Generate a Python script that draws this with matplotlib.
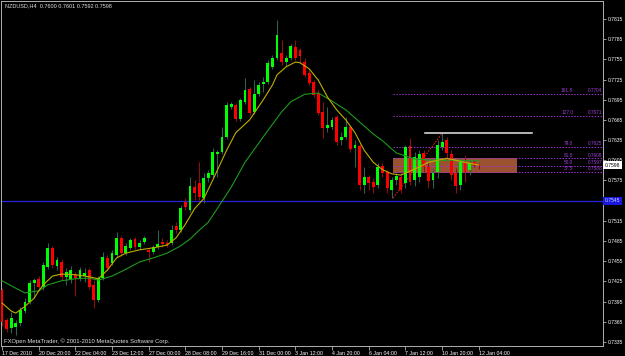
import matplotlib
matplotlib.use('Agg')
import matplotlib.pyplot as plt
import matplotlib.transforms as mtransforms
import numpy as np

plt.rcParams['font.family'] = ['Liberation Sans', 'DejaVu Sans']

# NZDUSD H4 candles, bar 0 = 17 Dec 2010, last bar = 12 Jan 04:00
opens = [0.7412, 0.7368, 0.7356, 0.7357, 0.7363, 0.7381, 0.7394, 0.7423, 0.7429, 0.7417,
         0.7446, 0.7475, 0.7448, 0.7454, 0.7432, 0.7427, 0.7435, 0.7430, 0.7433, 0.7442,
         0.7420, 0.7397, 0.7430, 0.7460, 0.7452, 0.7464, 0.7490, 0.7467, 0.7475, 0.7488,
         0.7476, 0.7484, 0.7472, 0.7469, 0.7476, 0.7484, 0.7482, 0.7482, 0.7508, 0.7501,
         0.7543, 0.7531, 0.7565, 0.7571, 0.7549, 0.7579, 0.7583, 0.7614, 0.7617, 0.7640,
         0.7684, 0.7687, 0.7666, 0.7692, 0.7711, 0.7677, 0.7703, 0.7718, 0.7721, 0.7744,
         0.7757, 0.7764, 0.7751, 0.7757, 0.7773, 0.7769, 0.7751, 0.7735, 0.7721, 0.7705,
         0.7677, 0.7653, 0.7654, 0.7669, 0.7635, 0.7640, 0.7654, 0.7623, 0.7626, 0.7568,
         0.7580, 0.7573, 0.7568, 0.7597, 0.7588, 0.7561, 0.7576, 0.7580, 0.7571, 0.7626,
         0.7576, 0.7580, 0.7616, 0.7595, 0.7576, 0.7588, 0.7625, 0.7635, 0.7614, 0.7586,
         0.7568, 0.7602, 0.7591, 0.7602, 0.7600]
highs = [0.7415, 0.7371, 0.7380, 0.7368, 0.7387, 0.7400, 0.7427, 0.7430, 0.7433, 0.7454,
         0.7482, 0.7478, 0.7461, 0.7458, 0.7445, 0.7448, 0.7439, 0.7446, 0.7445, 0.7445,
         0.7427, 0.7433, 0.7469, 0.7464, 0.7472, 0.7498, 0.7493, 0.7482, 0.7490, 0.7491,
         0.7487, 0.7493, 0.7475, 0.7479, 0.7501, 0.7490, 0.7487, 0.7509, 0.7513, 0.7539,
         0.7549, 0.7580, 0.7576, 0.7602, 0.7586, 0.7591, 0.7623, 0.7620, 0.7654, 0.7692,
         0.7692, 0.7690, 0.7698, 0.7727, 0.7714, 0.7724, 0.7721, 0.7729, 0.7754, 0.7761,
         0.7813, 0.7784, 0.7761, 0.7778, 0.7784, 0.7772, 0.7757, 0.7739, 0.7724, 0.7709,
         0.7692, 0.7684, 0.7669, 0.7672, 0.7647, 0.7669, 0.7657, 0.7635, 0.7629, 0.7595,
         0.7583, 0.7579, 0.7601, 0.7601, 0.7591, 0.7580, 0.7586, 0.7588, 0.7628, 0.7638,
         0.7617, 0.7620, 0.7620, 0.7601, 0.7593, 0.7635, 0.7645, 0.7640, 0.7620, 0.7593,
         0.7608, 0.7613, 0.7605, 0.7605, 0.7601]
lows = [0.7359, 0.7350, 0.7348, 0.7345, 0.7359, 0.7378, 0.7391, 0.7400, 0.7412, 0.7412,
        0.7443, 0.7445, 0.7442, 0.7427, 0.7420, 0.7423, 0.7404, 0.7426, 0.7424, 0.7414,
        0.7386, 0.7394, 0.7427, 0.7442, 0.7449, 0.7461, 0.7463, 0.7464, 0.7472, 0.7473,
        0.7473, 0.7481, 0.7454, 0.7466, 0.7473, 0.7476, 0.7476, 0.7479, 0.7497, 0.7498,
        0.7531, 0.7528, 0.7546, 0.7546, 0.7541, 0.7573, 0.7579, 0.7580, 0.7614, 0.7637,
        0.7681, 0.7663, 0.7663, 0.7689, 0.7672, 0.7674, 0.7700, 0.7706, 0.7718, 0.7741,
        0.7754, 0.7747, 0.7745, 0.7754, 0.7754, 0.7750, 0.7729, 0.7717, 0.7699, 0.7672,
        0.7638, 0.7647, 0.7651, 0.7628, 0.7628, 0.7637, 0.7617, 0.7595, 0.7561, 0.7557,
        0.7561, 0.7557, 0.7564, 0.7580, 0.7557, 0.7549, 0.7568, 0.7556, 0.7564, 0.7568,
        0.7567, 0.7573, 0.7588, 0.7564, 0.7564, 0.7579, 0.7620, 0.7607, 0.7576, 0.7557,
        0.7561, 0.7573, 0.7583, 0.7595, 0.7592]
closes = [0.7365, 0.7354, 0.7371, 0.7363, 0.7383, 0.7394, 0.7423, 0.7427, 0.7417, 0.7449,
          0.7475, 0.7449, 0.7457, 0.7432, 0.7439, 0.7442, 0.7430, 0.7442, 0.7437, 0.7417,
          0.7397, 0.7430, 0.7461, 0.7445, 0.7467, 0.7490, 0.7467, 0.7478, 0.7487, 0.7476,
          0.7482, 0.7490, 0.7469, 0.7476, 0.7481, 0.7481, 0.7479, 0.7501, 0.7501, 0.7534,
          0.7536, 0.7567, 0.7556, 0.7550, 0.7579, 0.7586, 0.7617, 0.7617, 0.7640, 0.7687,
          0.7689, 0.7666, 0.7695, 0.7709, 0.7675, 0.7703, 0.7717, 0.7721, 0.7750, 0.7757,
          0.7791, 0.7751, 0.7757, 0.7775, 0.7757, 0.7760, 0.7732, 0.7720, 0.7702, 0.7675,
          0.7653, 0.7657, 0.7665, 0.7632, 0.7640, 0.7654, 0.7622, 0.7628, 0.7568, 0.7580,
          0.7571, 0.7565, 0.7595, 0.7586, 0.7564, 0.7576, 0.7582, 0.7561, 0.7625, 0.7573,
          0.7610, 0.7614, 0.7595, 0.7574, 0.7586, 0.7628, 0.7632, 0.7616, 0.7583, 0.7567,
          0.7602, 0.7588, 0.7601, 0.7598, 0.7598]

# moving averages (bar index, price)
ma_fast_bars = [0, 2, 3, 5, 7, 8, 9, 11, 13, 16, 19, 21, 23, 25, 27, 30, 33, 36, 38, 40,
                42, 44, 46, 49, 51, 54, 57, 59, 60, 62, 64, 65, 67, 69, 71, 73, 75, 77, 79, 81,
                83, 85, 87, 89, 91, 93, 95, 97, 99, 101, 104]
ma_fast = [0.7393, 0.7381, 0.7378, 0.7388, 0.7400, 0.7411, 0.7420, 0.7433, 0.7436, 0.7435,
           0.7432, 0.7429, 0.7442, 0.7460, 0.7467, 0.7472, 0.7475, 0.7479, 0.7490, 0.7510,
           0.7533, 0.7548, 0.7576, 0.7620, 0.7646, 0.7665, 0.7695, 0.7717, 0.7732, 0.7744,
           0.7751, 0.7750, 0.7741, 0.7724, 0.7699, 0.7680, 0.7665, 0.7646, 0.7620, 0.7602,
           0.7591, 0.7585, 0.7583, 0.7589, 0.7595, 0.7602, 0.7605, 0.7608, 0.7605, 0.7602,
           0.7598]
ma_slow_bars = [0, 3, 5, 8, 10, 13, 16, 19, 21, 24, 27, 30, 33, 36, 39, 41, 43, 45, 50, 53,
                57, 61, 63, 66, 69, 72, 75, 78, 81, 83, 86, 90, 94, 98, 104]
ma_slow = [0.7426, 0.7415, 0.7408, 0.7411, 0.7420, 0.7426, 0.7429, 0.7430, 0.7427, 0.7433,
           0.7443, 0.7454, 0.7460, 0.7467, 0.7478, 0.7488, 0.7501, 0.7513, 0.7565, 0.7602,
           0.7640, 0.7677, 0.7692, 0.7703, 0.7705, 0.7693, 0.7680, 0.7662, 0.7644, 0.7634,
           0.7616, 0.7607, 0.7605, 0.7605, 0.7604]

# fibonacci expansion levels
fib_labels = ['161.8', '127.0', '79.0', '61.8', '50.0', '37.5']
fib_prices = [0.7704, 0.7671, 0.7625, 0.7608, 0.7597, 0.7588]
fib_low, fib_high = 0.7549, 0.7645

support = 0.7545
last_price = 0.7598

tick_bars = [0, 8, 16, 24, 32, 40, 48, 56, 64, 72, 80, 88, 96, 104]
tick_labels = ['17 Dec 2010', '20 Dec 20:00', '22 Dec 04:00', '23 Dec 12:00', '27 Dec 00:00',
               '28 Dec 08:00', '29 Dec 16:00', '31 Dec 00:00', '3 Jan 12:00', '4 Jan 20:00',
               '6 Jan 04:00', '7 Jan 12:00', '10 Jan 20:00', '12 Jan 04:00']
price_ticks = [0.7815, 0.7785, 0.7755, 0.7725, 0.7695, 0.7665, 0.7635, 0.7605, 0.7575,
               0.7545, 0.7515, 0.7485, 0.7455, 0.7425, 0.7395, 0.7365, 0.7335]

o = np.array(opens); h = np.array(highs); l = np.array(lows); c = np.array(closes)
x = np.arange(len(o))
up = c >= o

fig = plt.figure(figsize=(6.25, 3.56), dpi=100, facecolor='black')
ax = fig.add_axes([1 / 625, 10 / 356, 602 / 625, 345 / 356])
ax.set_facecolor('black')
ax.set_xlim(-0.22, 131.1)
ax.set_ylim(0.73291, 0.78417)

# rectangle zone and fibo lines (background)
ax.fill_between([85.3, 112.3], 0.7586, 0.7608, color='#9a5230', lw=0, zorder=1)
for lab, p in zip(fib_labels, fib_prices):
    ax.plot([85.3, 131.1], [p, p], color='#9b30d0', lw=0.7, ls=(0, (1.5, 1.5)), zorder=1)
    ax.text(124.6, p + 0.00006, lab, color='#a040d8', fontsize=3.4, ha='right', va='bottom')
    ax.text(131.0, p + 0.00006, f'{p:.4f}', color='#a040d8', fontsize=3.4, ha='right', va='bottom')
ax.plot([85.3, 96], [fib_low, fib_high], color='#ff2020', lw=0.7, ls=(0, (1.5, 1.5)), zorder=2)
ax.plot([92.3, 115.6], [fib_high, fib_high], color='#e8e8e8', lw=1.1, zorder=5)
ax.axhline(support, color='#2424dc', lw=0.9, zorder=2)

# candles
ax.vlines(x[up], l[up], h[up], colors='#2f5f4f', lw=0.8, zorder=2)
ax.vlines(x[~up], l[~up], h[~up], colors='#8b1010', lw=0.8, zorder=2)
body = np.maximum(np.abs(c - o), 0.00008)
ax.bar(x[up], body[up], bottom=np.minimum(o, c)[up], width=0.62, color='#00ff00', lw=0, zorder=3)
ax.bar(x[~up], body[~up], bottom=np.minimum(o, c)[~up], width=0.62, color='#ff0000', lw=0, zorder=3)

ax.plot(ma_slow_bars, ma_slow, color='#1e9a1e', lw=0.8, zorder=4)
ax.plot(ma_fast_bars, ma_fast, color='#c0ae00', lw=0.8, zorder=4)

# axes styling
for s in ax.spines.values():
    s.set_color('#b0b0b0')
    s.set_linewidth(0.7)
ax.yaxis.tick_right()
ax.set_yticks(price_ticks)
# the support box covers its own tick label
ax.set_yticklabels(['' if v == support else f'{v:.4f}' for v in price_ticks])
ax.tick_params(axis='y', colors='#b0b0b0', labelcolor='white', length=2.5, width=0.6,
               labelsize=3.6, pad=1)
ax.set_xticks(tick_bars)
ax.set_xticklabels(tick_labels)
ax.tick_params(axis='x', colors='#b0b0b0', labelcolor='white', length=3, width=0.6,
               labelsize=3.8, pad=0.8)
for lbl in ax.get_xticklabels():
    lbl.set_ha('left')

tr = mtransforms.blended_transform_factory(ax.transAxes, ax.transData)
ax.text(1.003, last_price, f'{last_price:.4f}', transform=tr, fontsize=3.6, color='black',
        ha='left', va='center', zorder=6,
        bbox=dict(boxstyle='square,pad=0.3', fc='white', ec='none'))
ax.text(1.003, support, f'{support:.4f}', transform=tr, fontsize=3.6, color='#d0d0ff',
        ha='left', va='center', zorder=6,
        bbox=dict(boxstyle='square,pad=0.3', fc='#1818e0', ec='none'))

fig.text(5 / 625, 1 - 6 / 356, 'NZDUSD,H4  0.7600 0.7601 0.7592 0.7598', color='#e0e0e0',
         fontsize=4, va='center')
fig.text(4 / 625, 1 - 341 / 356, 'FXOpen MetaTrader, © 2001-2010 MetaQuotes Software Corp.',
         color='#e0e0e0', fontsize=4.2, va='center')

fig.savefig('out.png', dpi=100, facecolor='black')
